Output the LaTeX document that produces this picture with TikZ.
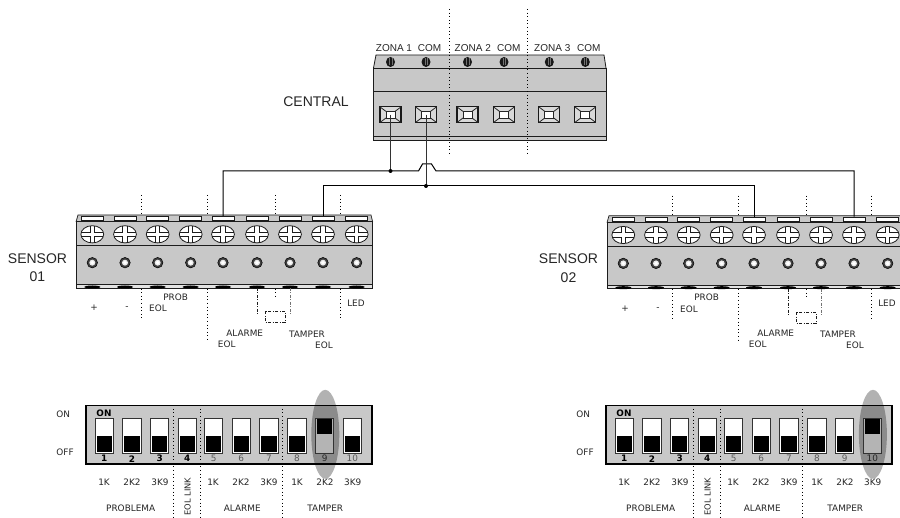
\documentclass[tikz,border=0pt]{standalone}
\usepackage{fontspec}
\setmainfont{DejaVu Sans}
\newfontfamily\arialf{Liberation Sans}
\definecolor{body}{HTML}{C8C8C8}
\definecolor{edge}{HTML}{1C1C1C}
\definecolor{txt}{HTML}{262626}
\definecolor{lever}{HTML}{B4B4B4}
\tikzset{
  lbl/.style={font=\fontsize{8.9}{10}\selectfont,text=txt,inner sep=0pt},
  big/.style={font=\arialf\fontsize{14}{16}\selectfont,text=txt,inner sep=0pt},
  zona/.style={font=\arialf\fontsize{10}{12}\selectfont,text=txt,inner sep=0pt},
  guide/.style={black,line width=0.9pt,dash pattern=on 1pt off 2.6pt},
  wire/.style={black,line width=1pt},
  dot/.style={circle,fill=black,inner sep=0pt,minimum size=4pt},
  dipnum/.style={inner sep=0pt,font=\fontsize{8.9}{10}\selectfont},
  hole/.style={circle,fill=black!75,draw=black,line width=.5pt,inner sep=0pt,minimum size=10.5pt},
}
% sensor terminal strip: #1 prefix, #2 dx, #3 dy
\newcommand{\SensorStrip}[3]{
  \begin{scope}[shift={(#2,#3)}]
    \draw[guide] (141,195) -- (141,319);
    \draw[guide] (207.5,195) -- (207.5,342);
    \draw[guide] (275,195) -- (275,297);
    \draw[guide] (340,195) -- (340,320);
    \fill[body] (76,222) -- (78,215) -- (371,215) -- (372.7,222) -- (372.7,288) -- (76,288) -- cycle;
    \draw[edge,line width=.7pt] (76,222) -- (78,215) -- (371,215) -- (372.7,222);
    \draw[edge,line width=1pt] (76,222) -- (372.7,222);
    \draw[edge,line width=1pt] (76,246) -- (372.7,246);
    \fill[body!50] (76,285) rectangle (372.7,288);
    \draw[edge,line width=.8pt] (76,222) -- (76,288) -- (372.7,288) -- (372.7,222);
    \draw[edge,line width=.7pt] (76,284.6) -- (372.7,284.6);
    \foreach \i/\x in {1/92.3,2/125,3/157.7,4/190.7,5/223,6/257,7/290,8/323,9/356.7}{
      \node[draw=edge,fill=white,line width=.8pt,minimum width=22pt,minimum height=4.4pt,inner sep=0pt] (#1s\i) at (\x,218.5) {};
      \draw[edge,fill=white,line width=.8pt] (\x,234.3) ellipse (11.4 and 8.6);
      \draw[edge,line width=1.1pt] (\x-11,232.2) -- (\x-2.1,232.2) -- (\x-2.1,226) (\x+2.1,226) -- (\x+2.1,232.2) -- (\x+11,232.2)
        (\x-11,236.4) -- (\x-2.1,236.4) -- (\x-2.1,242.6) (\x+2.1,242.6) -- (\x+2.1,236.4) -- (\x+11,236.4);
      \node[hole] (#1h\i) at (\x,262.7) {};
      \fill[body!40] (\x,262.7) circle (3);
      \fill[white] (\x,262.7) circle (1.9);
      \fill[black] (\x,287) ellipse (8 and 1.5);
    }
    \draw[edge,line width=.8pt,dash pattern=on 3pt off 1.5pt on 1pt off 1.5pt] (257.5,288) -- (257.5,316);
    \draw[black!55,line width=1pt,dash pattern=on 3pt off 1.5pt on 1pt off 1.5pt] (290,288) -- (290,316);
    \draw[edge,line width=.7pt,dash pattern=on 3pt off 1.5pt on 1pt off 1.5pt] (265,311.5) rectangle (285,322.5);
    \node[lbl] (#1a) at (94,308) {+};
    \node[lbl] (#1b) at (127,308) {-};
    \node[lbl] (#1c) at (175.7,297) {PROB};
    \node[lbl] (#1d) at (158,308.5) {EOL};
    \node[lbl] (#1e) at (356,303) {LED};
    \node[lbl] (#1f) at (244.7,333) {ALARME};
    \node[lbl] (#1g) at (226.7,344) {EOL};
    \node[lbl] (#1i) at (307,334) {TAMPER};
    \node[lbl] (#1j) at (324,345) {EOL};
  \end{scope}
}
% DIP block: #1 prefix, #2 dx, #3 index of the switch set to ON
\newcommand{\DipBlock}[3]{
  \begin{scope}[shift={(#2,0)}]
    \fill[body] (86,405.3) rectangle (372,464);
    \draw[black,line width=1.3pt] (86,405.3) rectangle (372,464);
    \foreach \x/\j in {104.3/1,132/2,159.7/3,187.3/4,213.7/5,241.3/6,269/7,297/8,324.7/9,352.3/10}{
      \ifnum\j=#3\relax
        \fill[black,opacity=.3] (\x+.6,434.3) ellipse (14 and 44.5);
      \fi
    }
    \foreach \x/\j in {104.3/1,132/2,159.7/3,187.3/4,213.7/5,241.3/6,269/7,297/8,324.7/9,352.3/10}{
      \ifnum\j=#3\relax
        \node[draw=black!80,fill=lever,line width=.9pt,minimum width=18.4pt,minimum height=35pt,inner sep=0pt] (#1sw\j) at (\x,435.8) {};
        \fill[black] (\x-7.6,419.3) rectangle (\x+7.6,434.3);
      \else
        \node[draw=black!80,fill=white,line width=.9pt,minimum width=18.4pt,minimum height=35pt,inner sep=0pt] (#1sw\j) at (\x,435.8) {};
        \fill[black] (\x-7.6,436.5) rectangle (\x+7.6,452);
      \fi
      \ifnum\j<5\relax
        \node[dipnum,text=black,font=\bfseries\fontsize{8.9}{10}\selectfont] (#1n\j) at (\x,458.7) {\j};
      \else
        \ifnum\j=#3\relax
          \node[dipnum,text=black!85] (#1n\j) at (\x,458.7) {\j};
        \else
          \node[dipnum,text=black!65] (#1n\j) at (\x,458.7) {\j};
        \fi
      \fi
    }
    \draw[guide,line width=1.1pt] (173.7,405.3) -- (173.7,518);
    \draw[guide,line width=1.1pt] (200.7,405.3) -- (200.7,518);
    \draw[guide,line width=1.1pt] (282.7,405.3) -- (282.7,518);
    \node[lbl,text=black,font=\bfseries\fontsize{8.9}{10}\selectfont] (#1on) at (104,413.3) {ON};
    \node[lbl] (#1ONl) at (63.3,414.3) {ON};
    \node[lbl] (#1OFFl) at (65,452.3) {OFF};
    \foreach \x/\t [count=\k] in {104/1K,132/2K2,160/3K9,213/1K,241/2K2,269/3K9,297/1K,325/2K2,352.7/3K9}{
      \node[lbl] (#1r\k) at (\x,482.5) {\t};
    }
    \node[lbl] (#1P) at (130.7,508.3) {PROBLEMA};
    \node[lbl] (#1A) at (242.3,508.3) {ALARME};
    \node[lbl] (#1T) at (325.3,508.3) {TAMPER};
    \node[lbl,rotate=90,font=\fontsize{8.3}{10}\selectfont] (#1L) at (187.7,496.5) {EOL LINK};
  \end{scope}
}
\begin{document}
\begin{tikzpicture}[x=1pt,y=-1pt]
\useasboundingbox (0,0) rectangle (900,518);
\clip (0,0) rectangle (900,518);
\fill[white] (0,0) rectangle (900,518);

% central
\draw[guide] (449.7,9) -- (449.7,154);
\draw[guide] (527.3,9) -- (527.3,154);
\fill[body] (373.5,68) -- (376,55) -- (604,55) -- (606,68) -- (606,140.5) -- (373.5,140.5) -- cycle;
\draw[edge,line width=.8pt] (373.5,68) -- (376,55) -- (604,55) -- (606,68);
\draw[edge,line width=.9pt] (373.5,68) -- (606,68);
\draw[edge,line width=.9pt] (373.5,91) -- (606,91);
\draw[edge,line width=.7pt] (373.5,136.7) -- (606,136.7);
\draw[edge,line width=.9pt] (373.5,68) -- (373.5,140.5) -- (606,140.5) -- (606,68);
\draw[guide] (449.7,55) -- (449.7,140);
\draw[guide] (527.3,55) -- (527.3,140);
\foreach \i/\x in {1/390.5,2/426,3/467.5,4/504,5/549.3,6/585.3}{
  \fill[black!90] (\x,62) ellipse (4.5 and 5);
  \draw[black!55,line width=.4pt] (\x-1.2,58.5) -- (\x-1.2,65.5) (\x+1.2,58.5) -- (\x+1.2,65.5);
  \node[draw=black!90,fill=body!70,line width=1.2pt,minimum width=21pt,minimum height=15.6pt,inner sep=0pt] (t\i) at (\x,114.7) {};
  \draw[black!85,line width=.9pt,fill=white] (\x-4.5,111.4) rectangle (\x+4.5,118);
  \draw[black!85,line width=.8pt] (\x-10.5,106.9) -- (\x-4.5,111.4) (\x+10.5,106.9) -- (\x+4.5,111.4) (\x-10.5,122.5) -- (\x-4.5,118) (\x+10.5,122.5) -- (\x+4.5,118);
}
\node[zona,anchor=west] (z1) at (375.7,48) {ZONA 1};
\node[zona,anchor=west] (c1) at (417.7,48) {COM};
\node[zona,anchor=west] (z2) at (454.5,48) {ZONA 2};
\node[zona,anchor=west] (c2) at (497,48) {COM};
\node[zona,anchor=west] (z3) at (534,48) {ZONA 3};
\node[zona,anchor=west] (c3) at (577,48) {COM};
\node[big] (central) at (316,101.5) {CENTRAL};
\node[big] (s1a) at (37.5,258.5) {SENSOR};
\node[big] (s1b) at (37.5,277) {01};
\node[big] (s2a) at (568.5,259) {SENSOR};
\node[big] (s2b) at (568.5,277.5) {02};

\SensorStrip{a}{0}{0}
\SensorStrip{b}{531}{0.7}
\DipBlock{da}{0}{9}
\DipBlock{db}{520}{10}

% wires
\coordinate (j1) at (t1.center |- 0,171);
\coordinate (j2) at (t2.center |- 0,186);
\coordinate (bumpa) at (418.5,171);
\coordinate (bumpb) at (422.5,164);
\coordinate (bumpc) at (431.5,164);
\coordinate (bumpd) at (436,171);
\draw[wire] (as5.north) -- (as5.north |- j1) -- (bumpa) -- (bumpb) -- (bumpc) -- (bumpd) -- (bs8.north |- bumpd) -- (bs8.north);
\draw[wire] (as8.north) -- (as8.north |- j2) -- (bs5.north |- j2) -- (bs5.north);
\draw[wire,black!80] (t1.center) -- (j1);
\draw[wire,black!80] (t2.center) -- (j2);
\node[dot] (d1) at (j1) {};
\node[dot] (d2) at (j2) {};
\end{tikzpicture}
\end{document}
